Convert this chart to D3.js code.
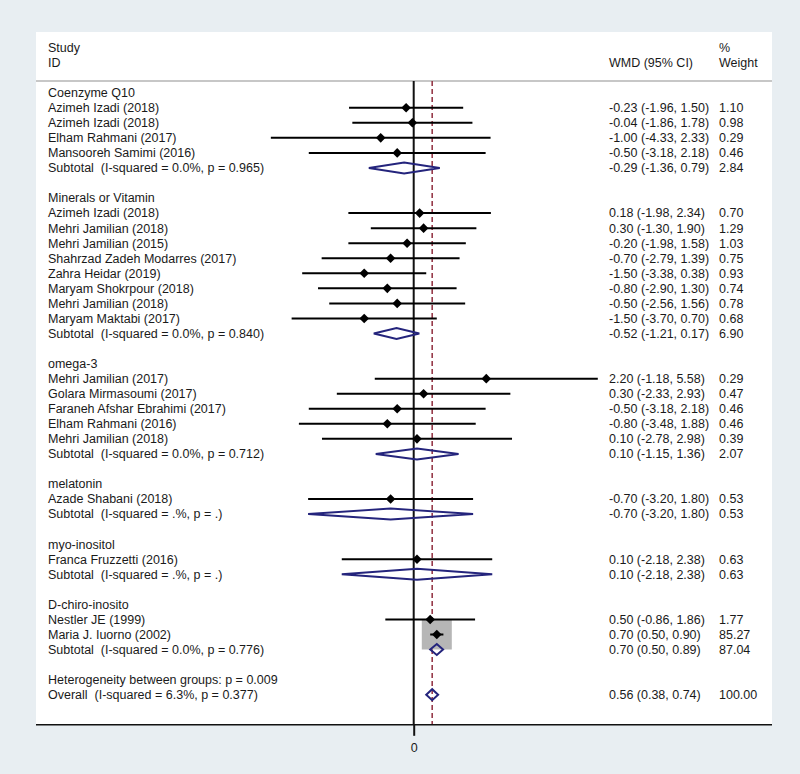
<!DOCTYPE html>
<html>
<head>
<meta charset="utf-8">
<script src="https://cdn.jsdelivr.net/npm/d3@7"></script>
<style>
  html, body { margin: 0; padding: 0; background: #e8eef2; }
  svg { display: block; }
  text { font-family: "Liberation Sans", Arial, sans-serif; font-size: 12.5px; fill: #1a1a1a; }
</style>
</head>
<body>
<script>
// ---------------- DATA ----------------
const groupNames = ["Coenzyme Q10", "Minerals or Vitamin", "omega-3", "melatonin", "myo-inositol", "D-chiro-inosito"];

const studyNames = [
  "Azimeh Izadi (2018)", "Azimeh Izadi (2018)", "Elham Rahmani (2017)", "Mansooreh Samimi (2016)",
  "Azimeh Izadi (2018)", "Mehri Jamilian (2018)", "Mehri Jamilian (2015)", "Shahrzad Zadeh Modarres (2017)",
  "Zahra Heidar (2019)", "Maryam Shokrpour (2018)", "Mehri Jamilian (2018)", "Maryam Maktabi (2017)",
  "Mehri Jamilian (2017)", "Golara Mirmasoumi (2017)", "Faraneh Afshar Ebrahimi (2017)", "Elham Rahmani (2016)", "Mehri Jamilian (2018)",
  "Azade Shabani (2018)",
  "Franca Fruzzetti (2016)",
  "Nestler JE (1999)", "Maria J. Iuorno (2002)"
];
const studyGroup = [0,0,0,0, 1,1,1,1,1,1,1,1, 2,2,2,2,2, 3, 4, 5,5];
const studyES = [-0.23,-0.04,-1.00,-0.50, 0.18,0.30,-0.20,-0.70,-1.50,-0.80,-0.50,-1.50, 2.20,0.30,-0.50,-0.80,0.10, -0.70, 0.10, 0.50,0.70];
const studyLo = [-1.96,-1.86,-4.33,-3.18, -1.98,-1.30,-1.98,-2.79,-3.38,-2.90,-2.56,-3.70, -1.18,-2.33,-3.18,-3.48,-2.78, -3.20, -2.18, -0.86,0.50];
const studyHi = [1.50,1.78,2.33,2.18, 2.34,1.90,1.58,1.39,0.38,1.30,1.56,0.70, 5.58,2.93,2.18,1.88,2.98, 1.80, 2.38, 1.86,0.90];
const studyWeight = [1.10,0.98,0.29,0.46, 0.70,1.29,1.03,0.75,0.93,0.74,0.78,0.68, 0.29,0.47,0.46,0.46,0.39, 0.53, 0.63, 1.77,85.27];

const subES = [-0.29, -0.52, 0.10, -0.70, 0.10, 0.70];
const subLo = [-1.36, -1.21, -1.15, -3.20, -2.18, 0.50];
const subHi = [0.79, 0.17, 1.36, 1.80, 2.38, 0.89];
const subWeight = [2.84, 6.90, 2.07, 0.53, 0.63, 87.04];
const subI2 = ["0.0%", "0.0%", "0.0%", ".%", ".%", "0.0%"];
const subP = ["0.965", "0.840", "0.712", ".", ".", "0.776"];

const heterogeneityP = "0.009";
const overallES = 0.56, overallLo = 0.38, overallHi = 0.74, overallWeight = 100.00;
const overallI2 = "6.3%", overallP = "0.377";

const xDomain = [-5.58, 5.58];
const xTicks = [0];

// ---------------- LAYOUT ----------------
const W = 800, H = 774;
const panel = {x: 36, y: 32, w: 736, h: 692};
const textX = 48, wmdX = 609, wtX = 719;

const svg = d3.select("body").append("svg").attr("width", W).attr("height", H);
svg.append("rect").attr("width", W).attr("height", H).attr("fill", "#e8eef2");
svg.append("rect").attr("x", panel.x).attr("y", panel.y).attr("width", panel.w).attr("height", panel.h).attr("fill", "#ffffff");

// build rows
const rows = [];
groupNames.forEach((g, gi) => {
  rows.push({type: "group", label: g});
  studyNames.forEach((s, si) => {
    if (studyGroup[si] === gi) rows.push({type: "study", i: si});
  });
  rows.push({type: "sub", i: gi});
  rows.push({type: "blank"});
});
rows.push({type: "het"});
rows.push({type: "overall"});
rows.forEach((r, k) => r.k = k);

const y = d3.scaleLinear().domain([0, 42]).range([92.7, 724.8]);
const x = d3.scaleLinear().domain(xDomain).range([229.6, 597.8]);
const boxSize = d3.scaleSqrt().domain([0, 85.27]).range([0, 30]);

const fmt = v => v.toFixed(2);
const ciText = (e, l, h) => `${fmt(e)} (${fmt(l)}, ${fmt(h)})`;

const yAxis = y(42);
const ySep = 81;

// header
svg.append("text").attr("x", textX).attr("y", y(-3)).attr("dy", "0.35em").text("Study");
svg.append("text").attr("x", textX).attr("y", y(-2)).attr("dy", "0.35em").text("ID");
svg.append("text").attr("x", wmdX).attr("y", y(-2)).attr("dy", "0.35em").text("WMD (95% CI)");
svg.append("text").attr("x", wtX).attr("y", y(-3)).attr("dy", "0.35em").text("%");
svg.append("text").attr("x", wtX).attr("y", y(-2)).attr("dy", "0.35em").text("Weight");
svg.append("line").attr("x1", panel.x).attr("x2", panel.x + panel.w).attr("y1", ySep).attr("y2", ySep)
  .attr("stroke", "#b4b4b4").attr("stroke-width", 1.5);

// zero line and overall dashed line
svg.append("line").attr("x1", x(0)).attr("x2", x(0)).attr("y1", ySep).attr("y2", yAxis)
  .attr("stroke", "#111").attr("stroke-width", 2);
svg.append("line").attr("x1", x(overallES)).attr("x2", x(overallES)).attr("y1", ySep).attr("y2", yAxis)
  .attr("stroke", "#902d3e").attr("stroke-width", 1.5).attr("stroke-dasharray", "5,3");

const g = svg.append("g");

// study boxes first
rows.filter(r => r.type === "study").forEach(r => {
  const i = r.i, s = boxSize(studyWeight[i]);
  g.append("rect").attr("x", x(studyES[i]) - s / 2).attr("y", y(r.k) - s / 2)
    .attr("width", s).attr("height", s).attr("fill", "#b6b6b6");
});

const diamondPath = (cx, cy, lo, hi, hh) =>
  `M${lo},${cy} L${cx},${cy - hh} L${hi},${cy} L${cx},${cy + hh} Z`;

rows.forEach(r => {
  const yy = y(r.k);
  if (r.type === "group") {
    g.append("text").attr("x", textX).attr("y", yy).attr("dy", "0.35em").text(r.label);
  } else if (r.type === "study") {
    const i = r.i;
    g.append("text").attr("x", textX).attr("y", yy).attr("dy", "0.35em").text(studyNames[i]);
    g.append("line").attr("x1", x(studyLo[i])).attr("x2", x(studyHi[i])).attr("y1", yy).attr("y2", yy)
      .attr("stroke", "#000").attr("stroke-width", 2);
    const cx = x(studyES[i]), d = 4.8;
    g.append("path").attr("d", diamondPath(cx, yy, cx - d, cx + d, d)).attr("fill", "#000");
    g.append("text").attr("x", wmdX).attr("y", yy).attr("dy", "0.35em").text(ciText(studyES[i], studyLo[i], studyHi[i]));
    g.append("text").attr("x", wtX).attr("y", yy).attr("dy", "0.35em").text(fmt(studyWeight[i]));
  } else if (r.type === "sub") {
    const i = r.i;
    g.append("text").attr("x", textX).attr("y", yy).attr("dy", "0.35em").style("white-space", "pre")
      .text(`Subtotal  (I-squared = ${subI2[i]}, p = ${subP[i]})`);
    g.append("path").attr("d", diamondPath(x(subES[i]), yy, x(subLo[i]), x(subHi[i]), 5.5))
      .attr("fill", "none").attr("stroke", "#24247c").attr("stroke-width", 2);
    g.append("text").attr("x", wmdX).attr("y", yy).attr("dy", "0.35em").text(ciText(subES[i], subLo[i], subHi[i]));
    g.append("text").attr("x", wtX).attr("y", yy).attr("dy", "0.35em").text(fmt(subWeight[i]));
  } else if (r.type === "het") {
    g.append("text").attr("x", textX).attr("y", yy).attr("dy", "0.35em")
      .text(`Heterogeneity between groups: p = ${heterogeneityP}`);
  } else if (r.type === "overall") {
    g.append("text").attr("x", textX).attr("y", yy).attr("dy", "0.35em").style("white-space", "pre")
      .text(`Overall  (I-squared = ${overallI2}, p = ${overallP})`);
    g.append("path").attr("d", diamondPath(x(overallES), yy, x(overallLo), x(overallHi), 5.5))
      .attr("fill", "none").attr("stroke", "#24247c").attr("stroke-width", 2);
    g.append("text").attr("x", wmdX).attr("y", yy).attr("dy", "0.35em").text(ciText(overallES, overallLo, overallHi));
    g.append("text").attr("x", wtX).attr("y", yy).attr("dy", "0.35em").text(fmt(overallWeight));
  }
});

// x axis
svg.append("line").attr("x1", panel.x).attr("x2", panel.x + panel.w).attr("y1", yAxis).attr("y2", yAxis)
  .attr("stroke", "#111").attr("stroke-width", 1.5);
const ax = svg.append("g").attr("transform", `translate(0,${yAxis})`)
  .call(d3.axisBottom(x).tickValues(xTicks).tickFormat(d3.format("d")).tickSize(11).tickPadding(7));
ax.select(".domain").remove();
ax.selectAll(".tick line").attr("stroke", "#111").attr("stroke-width", 2);
ax.selectAll(".tick text").attr("font-family", "Liberation Sans, Arial, sans-serif").attr("font-size", 12.5).attr("fill", "#1a1a1a");
</script>
</body>
</html>
